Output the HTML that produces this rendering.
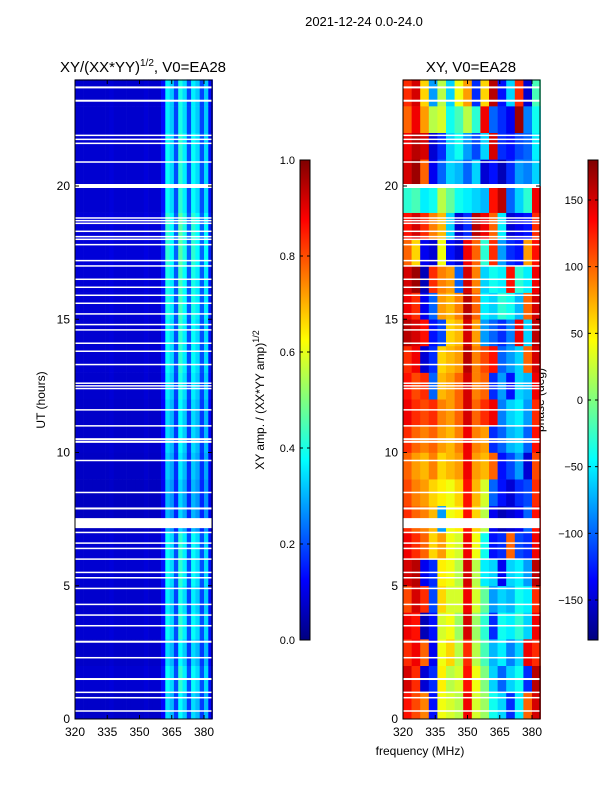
<!DOCTYPE html>
<html><head><meta charset="utf-8"><style>
body{margin:0;background:#fff;width:600px;height:800px;overflow:hidden}
svg text{font-family:"Liberation Sans",sans-serif;fill:#000}
</style></head><body>
<svg id="fig" width="600" height="800" xmlns="http://www.w3.org/2000/svg">
<text x="364" y="26" font-size="13" text-anchor="middle">2021-12-24 0.0-24.0</text>
<text x="143" y="72" font-size="15" text-anchor="middle">XY/(XX*YY)<tspan font-size="10" dy="-6">1/2</tspan><tspan dy="6">, V0=EA28</tspan></text>
<text x="471" y="72" font-size="15" text-anchor="middle">XY, V0=EA28</text>
<text x="420" y="755" font-size="12" text-anchor="middle">frequency (MHz)</text>
<text x="0" y="0" font-size="12" text-anchor="middle" transform="translate(45,400) rotate(-90)">UT (hours)</text>
<text x="0" y="0" font-size="12" text-anchor="middle" transform="translate(264,400) rotate(-90)">XY amp. / (XX*YY amp)<tspan font-size="9" dy="-5">1/2</tspan></text>
<text x="0" y="0" font-size="12" text-anchor="middle" transform="translate(544,400) rotate(-90)">phase (deg)</text>
<defs><linearGradient id="jet" x1="0" y1="1" x2="0" y2="0">
<stop offset="0" stop-color="#00007f"/><stop offset="0.125" stop-color="#0000ff"/><stop offset="0.375" stop-color="#00ffff"/><stop offset="0.625" stop-color="#ffff00"/><stop offset="0.875" stop-color="#ff0000"/><stop offset="1" stop-color="#7f0000"/></linearGradient></defs>
<g id="left"></g><g id="right"></g><g id="cb1"></g><g id="cb2"></g>
</svg>
<script>
const freqBins=[320,322,324,326,328,330,332,334,336,338,340,342,344,346,348,350,352,354,356,358,360,362,364,366,368,370,372,374,376,378,380,382];
const ampProfile=[0.08,0.08,0.08,0.08,0.08,0.08,0.08,0.08,0.09,0.08,0.08,0.08,0.08,0.08,0.08,0.08,0.09,0.08,0.08,0.08,0.14,0.38,0.34,0.2,0.42,0.36,0.2,0.38,0.34,0.2,0.34,0.14];
const hourFactor=[0.9,1.0,0.9,1.0,0.95,1.0,1.0,0.8,0.8,0.85,0.9,0.9,0.95,1.0,1.0,1.05,1.05,1.1,1.1,1.0,1.0,1.0,0.95,0.95];
const phaseFreqs=[320,324,328,332,336,340,344,348,352,356,360,364,368,372,376,380];
const phaseRows=[
[130,110,90,-130,40,30,20,140,30,10,-40,-60,-120,-50,100,150],
[150,120,-150,-120,50,20,30,130,40,0,-60,-100,-60,-40,-120,160],
[120,140,100,-140,40,60,20,120,20,-20,-70,-50,-90,-60,140,120],
[140,130,-160,-130,30,40,10,150,10,-30,-120,-40,-50,-30,-60,140],
[110,150,120,-110,60,30,30,140,30,-10,-80,-60,-70,-40,-50,120],
[150,160,-140,-120,50,40,20,150,20,-50,-60,-140,-60,-50,-80,160],
[140,120,100,60,80,40,30,140,40,-40,-130,-120,100,-110,-120,140],
[120,100,90,70,-80,40,50,130,60,20,-140,-160,-150,-140,-100,130],
[110,90,80,60,50,40,60,130,70,30,-100,-130,-150,-120,-110,120],
[100,80,70,90,60,70,80,140,80,70,100,-130,-110,-80,-150,110],
[120,100,90,100,80,70,90,140,90,80,-120,-100,-70,-60,-100,130],
[140,120,110,120,90,80,100,150,100,120,140,-90,-60,-50,-80,120],
[130,110,120,-100,70,80,100,150,90,100,-120,-80,-130,-60,-70,140],
[120,140,-150,-120,60,70,80,160,90,110,130,-100,-80,-60,100,150],
[160,150,130,-130,-110,60,70,150,80,-80,-100,-120,-90,140,-60,160],
[140,120,-140,-100,80,70,90,160,100,-50,-60,-30,-40,-70,100,150],
[150,170,-160,120,90,80,-100,150,90,-60,-40,-50,130,-30,-50,140],
[100,60,-140,-150,40,-130,-150,140,100,-30,120,-80,-120,-130,80,130],
[130,150,120,90,70,-60,-150,-120,160,140,100,-50,-150,-140,-130,120],
[-30,-20,-50,-40,20,-10,-40,-50,-60,-70,130,160,-100,-60,-30,140],
[150,170,100,-140,-100,-60,-70,-100,-60,-150,-130,-160,-120,-80,-90,-60],
[140,160,150,-150,-120,-60,-40,-80,-110,-60,150,-120,-130,-110,-100,-50],
[100,140,80,20,30,-40,-20,20,-30,140,-100,-120,-140,170,-90,-40],
[120,150,60,-80,20,-60,40,80,-120,60,160,-130,-60,120,-150,-20]];
const flagHours=[23.7,23.2,21.9,21.75,21.6,20.9,20.0,18.8,18.7,18.6,18.3,18.1,18.0,17.8,17.2,17.0,16.5,16.2,15.9,15.6,15.2,14.8,14.6,14.1,13.8,13.3,12.6,12.5,12.4,11.6,11.0,10.5,10.4,9.7,8.5,7.9,7.35,7.0,6.6,6.4,6.0,5.5,5.3,4.9,4.3,3.9,3.5,2.9,2.3,1.5,1.0,0.8,0.3];
const flagWidths=[2,2,1.5,1.5,1.5,1.5,4,1.5,1.5,1.5,1.5,1.5,1.5,1.5,1.5,1.5,1.5,1.5,1.5,1.5,1.5,1.5,1.5,1.5,1.5,1.5,1.5,1.5,1.5,1.5,1.5,2,2,1.5,1.5,2,10,1.5,1.5,1.5,1.5,1.5,1.5,1.5,1.5,1.5,1.5,2,1.5,2,1.5,1.5,1.5];
const xTicks=[320,335,350,365,380];
const yTicks=[0,5,10,15,20];
const ampTicks=[0.0,0.2,0.4,0.6,0.8,1.0];
const phaseTicks=[-150,-100,-50,0,50,100,150];

const NS="http://www.w3.org/2000/svg";
function el(tag,attrs,parent){const e=document.createElementNS(NS,tag);for(const k in attrs)e.setAttribute(k,attrs[k]);parent.appendChild(e);return e;}
function jet(v){v=Math.max(0,Math.min(1,v));
 const r=Math.max(0,Math.min(1,1.5-Math.abs(4*v-3))),g=Math.max(0,Math.min(1,1.5-Math.abs(4*v-2))),b=Math.max(0,Math.min(1,1.5-Math.abs(4*v-1)));
 return `rgb(${Math.round(r*255)},${Math.round(g*255)},${Math.round(b*255)})`;}
const yScale=h=>719-h*26.65;
function panel(gid,x0){
 const g=document.getElementById(gid);
 const xs=f=>x0+(f-320)*2.15;
 return {g,xs};
}
const L=panel('left',75);
for(let r=0;r<hourFactor.length;r++){
 for(let c=0;c<freqBins.length;c++){
  const x=L.xs(freqBins[c]),w=L.xs(freqBins[c]+2)-x+0.3;
  const rc=el('rect',{x:x,y:yScale(r+1),width:w,height:26.95,fill:jet(ampProfile[c]*hourFactor[r])},L.g);
  
  
 }
}
const R=panel('right',403);
for(let r=0;r<phaseRows.length;r++){
 for(let c=0;c<phaseFreqs.length;c++){
  const x=R.xs(phaseFreqs[c]),w=R.xs(phaseFreqs[c]+4)-x+0.3;
  const rc=el('rect',{x:x,y:yScale(r+1),width:w,height:26.95,fill:jet((phaseRows[r][c]+180)/360)},R.g);
  
  
 }
}
[[L,75],[R,403]].forEach(([P,x0])=>{
 flagHours.forEach((h,i)=>{
  const f=el('rect',{x:x0,y:yScale(h)-flagWidths[i]/2,width:137,height:flagWidths[i],fill:'#fff'},P.g);
  
  
 });
 const fr=el('rect',{x:x0,y:80,width:137,height:639,fill:'none',stroke:'#000','stroke-width':1},P.g);
 
 
 xTicks.forEach(t=>{const x=P.xs(t);
  el('line',{x1:x,x2:x,y1:719,y2:715,stroke:'#000'},P.g);el('line',{x1:x,x2:x,y1:80,y2:84,stroke:'#000'},P.g);
  const tx=el('text',{x:x,y:736,'font-size':12,'text-anchor':'middle'},P.g);tx.textContent=t;
  
  });
 yTicks.forEach(t=>{const y=yScale(t);
  el('line',{x1:x0,x2:x0+4,y1:y,y2:y,stroke:'#000'},P.g);el('line',{x1:x0+137,x2:x0+133,y1:y,y2:y,stroke:'#000'},P.g);
  const tx=el('text',{x:x0-5,y:y+4,'font-size':12,'text-anchor':'end'},P.g);tx.textContent=t;
  
  });
});
function colorbar(gid,x,vmin,vmax,ticks,fmt){
 const g=document.getElementById(gid);
 const b=el('rect',{x:x,y:160,width:10,height:480,fill:'url(#jet)',stroke:'#000','stroke-width':1},g);
 
 
 ticks.forEach(t=>{const y=640-(t-vmin)/(vmax-vmin)*480;
  el('line',{x1:x,x2:x+3,y1:y,y2:y,stroke:'#000'},g);el('line',{x1:x+10,x2:x+7,y1:y,y2:y,stroke:'#000'},g);
  const tx=el('text',{x:x-5,y:y+4,'font-size':11,'text-anchor':'end'},g);tx.textContent=fmt(t);
  
  });
}
colorbar('cb1',300,0,1,ampTicks,t=>t.toFixed(1));
colorbar('cb2',588,-180,180,phaseTicks,t=>t<0?'\u2212'+(-t):String(t));
</script>
</body></html>
